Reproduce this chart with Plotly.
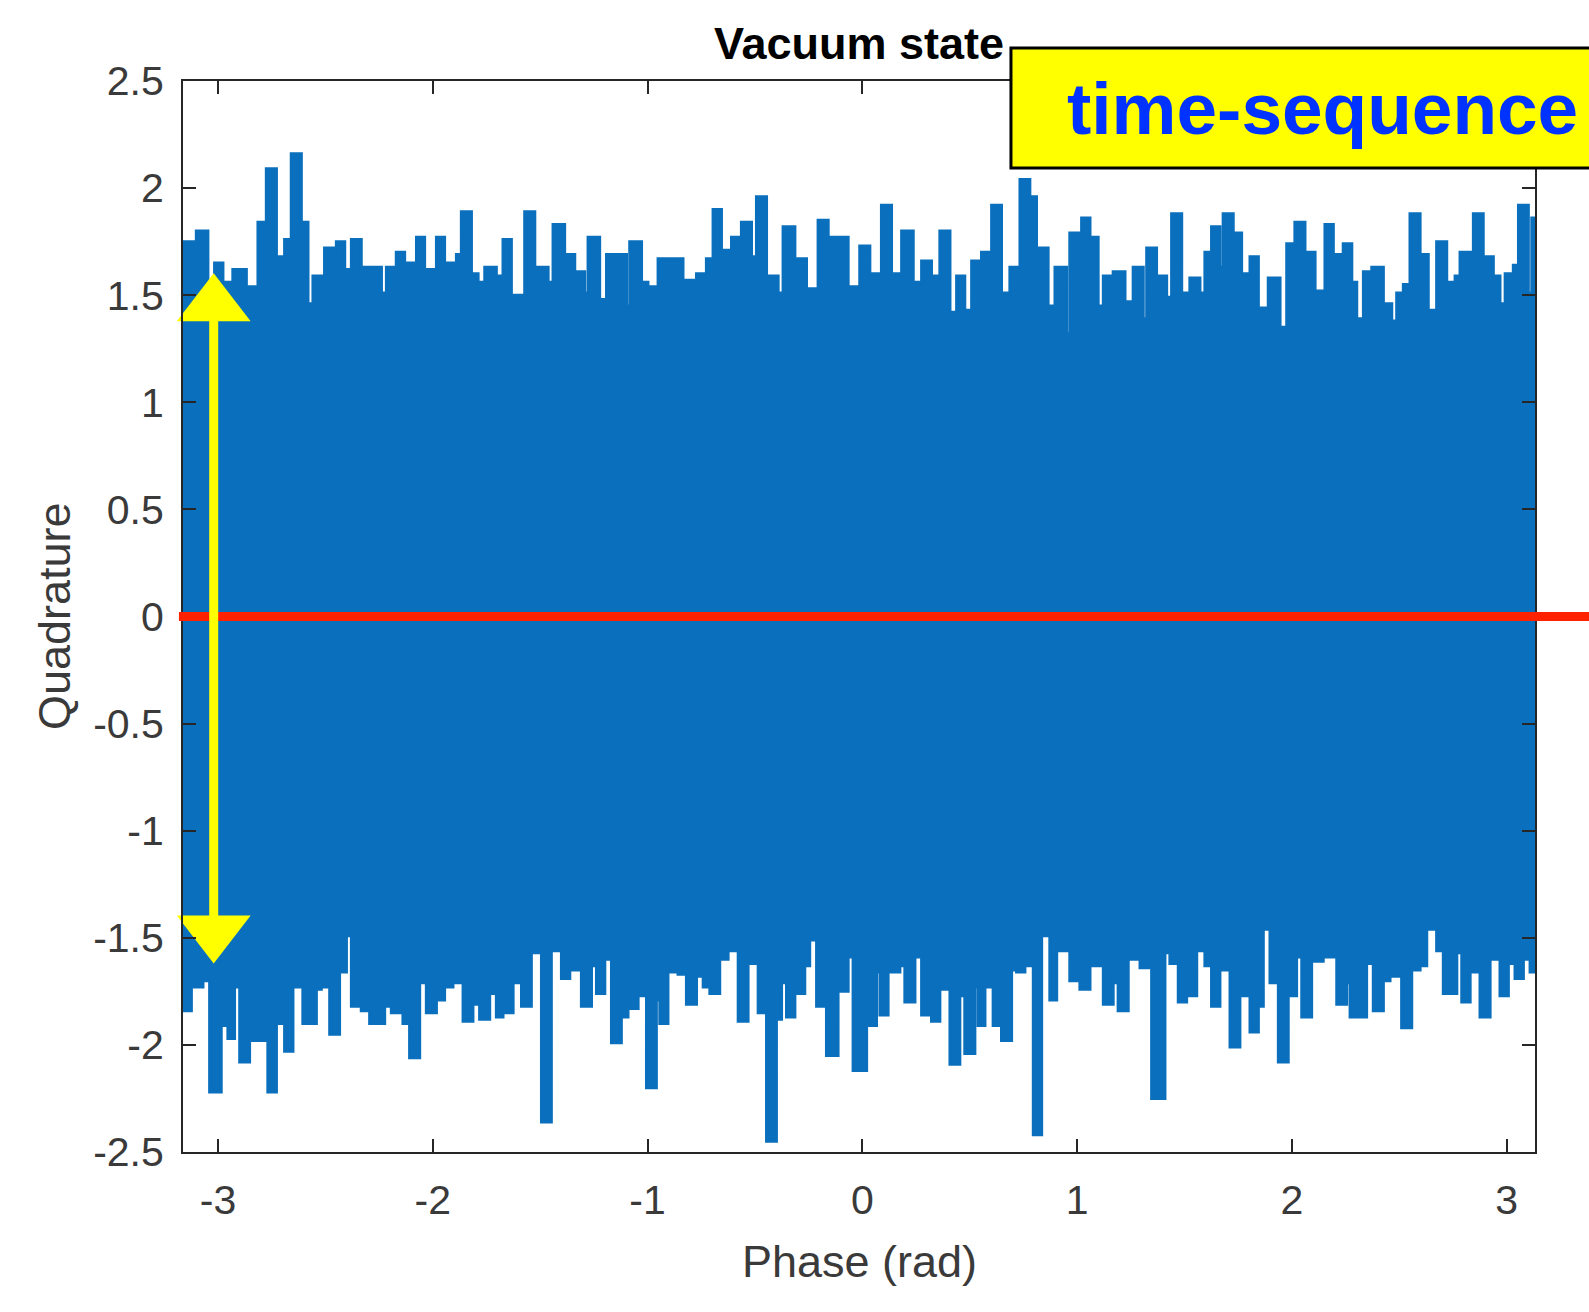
import plotly.graph_objects as go

# ---------------- data ----------------
title_text = "Vacuum state"
x_label = "Phase (rad)"
y_label = "Quadrature"
banner_text = "time-sequence"

x_tick_vals = [-3, -2, -1, 0, 1, 2, 3]
x_tick_text = ["-3", "-2", "-1", "0", "1", "2", "3"]
y_tick_vals = [-2.5, -2, -1.5, -1, -0.5, 0, 0.5, 1, 1.5, 2, 2.5]
y_tick_text = ["-2.5", "-2", "-1.5", "-1", "-0.5", "0", "0.5", "1", "1.5", "2", "2.5"]

# upper envelope of the quadrature samples: phase where each level starts, and level
upper_phase = [
    -3.171, -3.101, -3.047, -3.016, -2.977, -2.931, -2.868, -2.814, -2.775, -2.728,
    -2.690, -2.659, -2.612, -2.581, -2.558, -2.504, -2.449, -2.410, -2.379, -2.333,
    -2.279, -2.239, -2.216, -2.170, -2.131, -2.076, -2.038, -1.983, -1.945, -1.890,
    -1.867, -1.820, -1.789, -1.758, -1.704, -1.673, -1.634,
    -1.572, -1.525, -1.463, -1.440, -1.386, -1.339, -1.293, -1.277, -1.223, -1.191,
    -1.098, -1.083, -1.028, -0.998, -0.951, -0.881, -0.835, -0.772, -0.726, -0.695,
    -0.656, -0.609, -0.563, -0.516, -0.493, -0.446, -0.392, -0.369, -0.314, -0.260,
    -0.206, -0.159, -0.113, -0.066,
    -0.012, 0.035, 0.089, 0.136, 0.183, 0.237, 0.276, 0.322, 0.361, 0.408,
    0.439, 0.477, 0.509, 0.555, 0.602, 0.648, 0.687, 0.734, 0.780, 0.811,
    0.865, 0.897, 0.951, 0.966, 1.021, 1.060, 1.098, 1.122, 1.168, 1.223,
    1.261, 1.308, 1.324, 1.370, 1.417, 1.440, 1.487, 1.525,
    1.572, 1.595, 1.626, 1.665, 1.680, 1.727, 1.766, 1.805, 1.844, 1.890,
    1.945, 1.976, 2.014, 2.061, 2.108, 2.154, 2.193, 2.239, 2.279, 2.302,
    2.333, 2.372, 2.426, 2.465, 2.488, 2.519, 2.550, 2.597, 2.635, 2.674,
    2.721, 2.760, 2.783, 2.814, 2.845, 2.891, 2.938, 2.969, 2.993, 3.031,
    3.055, 3.101, 3.117,
]
upper_quad = [
    1.75, 1.80, 1.52, 1.65, 1.56, 1.62, 1.54, 1.84, 2.09, 1.68,
    1.76, 2.16, 1.84, 1.46, 1.59, 1.72, 1.75, 1.62, 1.76, 1.63,
    1.63, 1.51, 1.63, 1.70, 1.65, 1.77, 1.62, 1.77, 1.65, 1.69,
    1.89, 1.60, 1.56, 1.63, 1.59, 1.76, 1.50,
    1.89, 1.63, 1.56, 1.83, 1.69, 1.61, 1.51, 1.77, 1.48, 1.69,
    1.45, 1.75, 1.56, 1.54, 1.67, 1.67, 1.57, 1.60, 1.67, 1.90,
    1.71, 1.77, 1.84, 1.68, 1.96, 1.59, 1.51, 1.82, 1.67, 1.53,
    1.85, 1.77, 1.77, 1.54,
    1.73, 1.60, 1.92, 1.60, 1.80, 1.56, 1.66, 1.59, 1.80, 1.42,
    1.59, 1.43, 1.66, 1.70, 1.92, 1.51, 1.63, 2.04, 1.96, 1.72,
    1.45, 1.63, 1.32, 1.79, 1.86, 1.77, 1.45, 1.59, 1.61, 1.47,
    1.63, 1.39, 1.72, 1.59, 1.49, 1.88, 1.51, 1.58,
    1.51, 1.70, 1.82, 1.63, 1.88, 1.79, 1.60, 1.68, 1.44, 1.58,
    1.35, 1.74, 1.84, 1.70, 1.52, 1.83, 1.69, 1.74, 1.56, 1.39,
    1.61, 1.63, 1.46, 1.38, 1.51, 1.55, 1.88, 1.69, 1.43, 1.75,
    1.56, 1.59, 1.70, 1.70, 1.88, 1.68, 1.59, 1.46, 1.60, 1.64,
    1.92, 1.51, 1.86,
]

# lower envelope of the quadrature samples
lower_phase = [
    -3.171, -3.124, -3.070, -3.039, -2.985, -2.954, -2.923, -2.899, -2.853, -2.822,
    -2.768, -2.728, -2.690, -2.651, -2.605, -2.542, -2.519, -2.480, -2.434, -2.402,
    -2.379, -2.333, -2.294, -2.224, -2.193, -2.139, -2.108, -2.061, -2.030, -1.983,
    -1.945, -1.906, -1.859, -1.813, -1.782, -1.735, -1.704, -1.673, -1.626,
    -1.587, -1.541, -1.494, -1.448, -1.401, -1.362, -1.308, -1.261, -1.238, -1.199,
    -1.168, -1.122, -1.091, -1.044, -1.005, -0.959, -0.943, -0.905, -0.858, -0.819,
    -0.772, -0.741, -0.710, -0.664, -0.625, -0.578, -0.532, -0.485, -0.446, -0.400,
    -0.376, -0.353, -0.314, -0.268, -0.245, -0.213, -0.167, -0.113, -0.066, -0.043,
    0.020, 0.066, 0.082, 0.120, 0.175, 0.198, 0.245, 0.276, 0.322, 0.361,
    0.408, 0.454, 0.477, 0.524, 0.539, 0.571, 0.609, 0.648, 0.695, 0.718,
    0.757, 0.796, 0.835, 0.873, 0.905, 0.966, 1.013, 1.060, 1.122, 1.168,
    1.191, 1.238, 1.293, 1.347, 1.409, 1.432, 1.471, 1.510, 1.557,
    1.595, 1.626, 1.665, 1.712, 1.758, 1.805, 1.844, 1.867, 1.898, 1.937,
    1.983, 2.022, 2.046, 2.092, 2.146, 2.209, 2.255, 2.271, 2.348, 2.379,
    2.426, 2.457, 2.511, 2.558, 2.597, 2.628, 2.674, 2.705, 2.768, 2.791,
    2.830, 2.876, 2.923, 2.969, 3.008, 3.039, 3.078, 3.109,
]
lower_quad = [
    -1.84, -1.73, -1.70, -2.22, -1.91, -1.97, -1.73, -2.08, -1.98, -1.98,
    -2.22, -1.90, -2.03, -1.73, -1.90, -1.74, -1.73, -1.95, -1.66, -1.49,
    -1.82, -1.84, -1.90, -1.82, -1.85, -1.90, -2.06, -1.71, -1.85, -1.79,
    -1.73, -1.71, -1.89, -1.81, -1.88, -1.76, -1.87, -1.85, -1.71,
    -1.82, -1.57, -2.36, -1.56, -1.69, -1.65, -1.82, -1.63, -1.76, -1.60,
    -1.99, -1.87, -1.83, -1.77, -2.20, -1.79, -1.90, -1.66, -1.67, -1.81,
    -1.68, -1.73, -1.76, -1.60, -1.56, -1.89, -1.62, -1.85, -2.45, -1.88,
    -1.71, -1.87, -1.76, -1.63, -1.51, -1.82, -2.05, -1.75, -1.59, -2.12,
    -1.91, -1.66, -1.86, -1.66, -1.63, -1.80, -1.59, -1.86, -1.89, -1.74,
    -2.09, -1.77, -2.04, -1.73, -1.91, -1.73, -1.91, -1.98, -1.65, -1.66,
    -1.63, -2.42, -1.49, -1.79, -1.56, -1.70, -1.74, -1.63, -1.81, -1.71,
    -1.84, -1.60, -1.64, -2.25, -1.57, -1.62, -1.80, -1.77, -1.56,
    -1.63, -1.82, -1.65, -2.01, -1.77, -1.94, -1.82, -1.46, -1.71, -2.08,
    -1.77, -1.59, -1.87, -1.61, -1.59, -1.81, -1.71, -1.87, -1.62, -1.84,
    -1.70, -1.68, -1.92, -1.65, -1.63, -1.46, -1.56, -1.76, -1.57, -1.80,
    -1.66, -1.87, -1.60, -1.77, -1.62, -1.69, -1.60, -1.66,
]
phase_end = 3.146

zero_level = 0.0             # red reference line
arrow_phase = -3.02          # hand-drawn yellow double arrow
arrow_head_centers = [1.453, -1.471]
arrow_head_symbols = ["triangle-up", "triangle-down"]

x_range = [-3.163, 3.132]
y_range = [-2.5, 2.5]

# ---------------- build the envelope polygon ----------------
def steps(starts, vals, end):
    xs, ys = [], []
    for i, (s, v) in enumerate(zip(starts, vals)):
        e = starts[i + 1] if i + 1 < len(starts) else end
        xs += [s, e]
        ys += [v, v]
    return xs, ys

ux, uy = steps(upper_phase, upper_quad, phase_end)
lx, ly = steps(lower_phase, lower_quad, phase_end)
poly_x = ux + lx[::-1] + [ux[0]]
poly_y = uy + ly[::-1] + [uy[0]]

BLUE = "#0A6FBD"
YELLOW = "#FFFF00"
FONT = "Liberation Sans, Arial, Helvetica, sans-serif"
AX = "#262626"
TXT = "#3a3a3a"

fig = go.Figure()
fig.add_trace(go.Scatter(
    x=poly_x, y=poly_y, mode="lines", fill="toself",
    fillcolor=BLUE, line=dict(color=BLUE, width=3),
    hoverinfo="skip", showlegend=False,
))
# arrow heads of the hand-drawn double arrow
fig.add_trace(go.Scatter(
    x=[arrow_phase] * len(arrow_head_centers), y=arrow_head_centers,
    mode="markers", cliponaxis=False,
    marker=dict(symbol=arrow_head_symbols, size=64, color=YELLOW,
                line=dict(width=0)),
    hoverinfo="skip", showlegend=False,
))

axis_common = dict(
    showline=True, linecolor=AX, linewidth=2, mirror="ticks",
    ticks="inside", ticklen=13, tickwidth=2, tickcolor=AX,
    showgrid=False, zeroline=False,
    tickfont=dict(family=FONT, size=41, color=TXT),
)
fig.update_xaxes(range=x_range, tickvals=x_tick_vals, ticktext=x_tick_text,
                 ticklabelstandoff=11, **axis_common)
fig.update_yaxes(range=y_range, tickvals=y_tick_vals, ticktext=y_tick_text,
                 ticklabelstandoff=9, **axis_common)

fig.update_layout(
    width=1589, height=1312, autosize=False,
    margin=dict(l=183, r=54, t=81, b=160),
    paper_bgcolor="white", plot_bgcolor="white",
    showlegend=False,
    shapes=[
        dict(type="line", xref="paper", yref="y", x0=-0.003, x1=1.05,
             y0=zero_level, y1=zero_level, line=dict(color="#FF2200", width=9),
             layer="above"),
        dict(type="line", xref="x", yref="y", x0=arrow_phase, x1=arrow_phase,
             y0=arrow_head_centers[0], y1=arrow_head_centers[1],
             line=dict(color=YELLOW, width=9), layer="above"),
        dict(type="rect", xref="paper", yref="paper", x0=0.6124, x1=1.06,
             y0=0.9188, y1=1.0308, fillcolor=YELLOW,
             line=dict(color="black", width=3), layer="above"),
    ],
    annotations=[
        dict(text="<b>" + title_text + "</b>", xref="paper", yref="paper",
             x=0.5, y=1.035, xanchor="center", yanchor="middle", showarrow=False,
             font=dict(family=FONT, size=45, color="black")),
        dict(text=x_label, xref="paper", yref="paper", x=0.5, y=-0.1027,
             xanchor="center", yanchor="middle", showarrow=False,
             font=dict(family=FONT, size=45, color=TXT)),
        dict(text=y_label, xref="paper", yref="paper", x=-0.095, y=0.5,
             xanchor="center", yanchor="middle", showarrow=False, textangle=-90,
             font=dict(family=FONT, size=45, color=TXT)),
        dict(text="<b>" + banner_text + "</b>", xref="paper", yref="paper",
             x=0.652, y=0.9745, xanchor="left", yanchor="middle", showarrow=False,
             font=dict(family=FONT, size=73, color="#0033FF")),
    ],
)

fig.write_html("out.html", config={"displayModeBar": False},
               post_script="document.body.style.margin='0px';")
